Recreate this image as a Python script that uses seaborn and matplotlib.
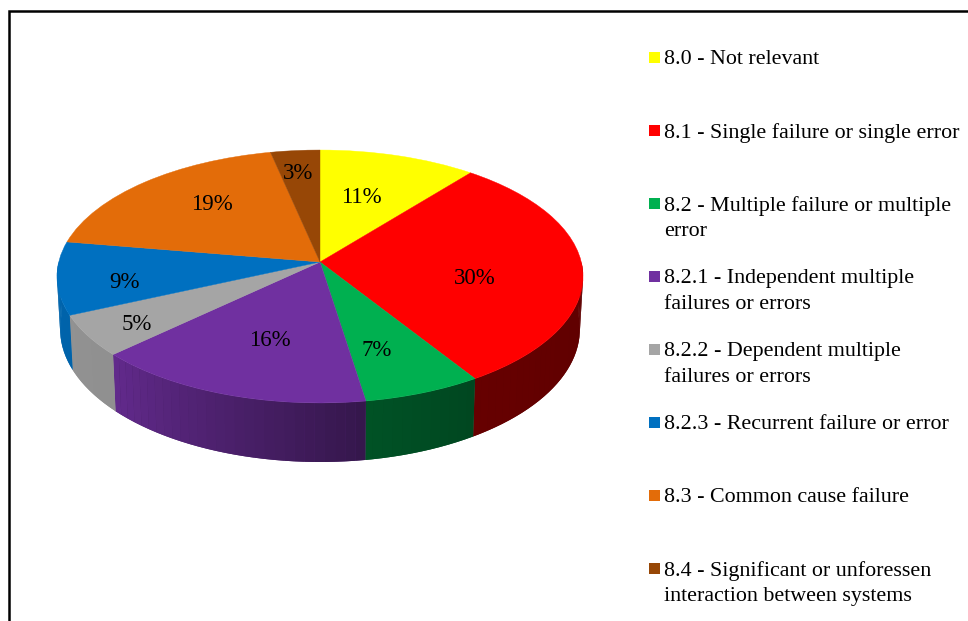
import numpy as np
import matplotlib
matplotlib.use('Agg')
import matplotlib.pyplot as plt
import seaborn as sns
from matplotlib.patches import Rectangle
from matplotlib.transforms import Transform

categories = ['8.0 - Not relevant',
              '8.1 - Single failure or single error',
              '8.2 - Multiple failure or multiple\nerror',
              '8.2.1 - Independent multiple\nfailures or errors',
              '8.2.2 - Dependent multiple\nfailures or errors',
              '8.2.3 - Recurrent failure or error',
              '8.3 - Common cause failure',
              '8.4 - Significant or unforessen\ninteraction between systems']
# shares, the labels show them rounded
values = [10.8, 30.2, 6.51, 15.51, 5.3, 9.3, 19.0, 3.38]
colors = ['#FFFF00', '#FF0000', '#00B050', '#7030A0',
          '#A5A5A5', '#0070C0', '#E36C09', '#974706']
# where the percent labels sit, in pixels
label_x = [361, 475, 377, 270, 137, 124, 212, 298]
label_y = [197.5, 278, 350, 341, 324, 283, 205, 173.5]

sns.set_theme(style='white')
plt.rcParams['font.family'] = ['Liberation Serif', 'DejaVu Serif']
palette = sns.color_palette(colors)

# perspective of the pie, in pixels
CX, CY = 320, 262
SX, SY, K = 261.3, 124.8, 0.1146


def project(u, v):
    w = 1 + K * v
    return CX + SX * u / w, CY - SY * v / w


class Tilt(Transform):
    input_dims = 2
    output_dims = 2

    def transform_non_affine(self, xy):
        x, y = project(xy[:, 0], xy[:, 1])
        return np.column_stack((x, y))


def wall(th):
    th = np.radians(th)
    x, y = project(np.sin(th), np.cos(th))
    return x, y, CX + (x - CX) * 0.988, CY + 52 + (y - CY) * 1.05


fig = plt.figure(figsize=(9.68, 6.21), dpi=100)
ax = fig.add_axes([0, 0, 1, 1])

wedges, _, pcts = ax.pie(values, colors=palette, startangle=90, counterclock=False,
                         autopct='%.0f%%', pctdistance=0.6, labeldistance=None,
                         textprops={'fontsize': 16.5, 'color': 'black'})
tilt = Tilt() + ax.transData
for w in wedges:
    w.set_transform(tilt)
    w.set_edgecolor(w.get_facecolor())
    w.set_linewidth(0.3)
    w.set_zorder(3)
for t, lx, ly in zip(pcts, label_x, label_y):
    t.set_position((lx, ly))
    t.set_zorder(4)

ax.set_aspect('auto')
ax.set_xlim(0, 968)
ax.set_ylim(621, 0)
ax.set_axis_off()

# side wall, darker towards the front right
edges = np.cumsum([0] + values) / np.sum(values) * 360
for i, col in enumerate(palette):
    start, end = max(edges[i], 90), min(edges[i + 1], 270)
    if end <= start:
        continue
    ang = np.append(np.arange(start, end, 2.0), end)
    shades = np.interp(ang, [90, 148, 171, 226, 270], [0.37, 0.40, 0.47, 0.87, 0.9])
    # whole slice first so the strips leave no seams
    x, y, x2, y2 = wall(ang)
    base = tuple(c * shades.mean() for c in col)
    ax.fill(np.r_[x, x2[::-1]], np.r_[y, y2[::-1]], color=base, lw=0, zorder=1)
    for j in range(len(ang) - 1):
        x, y, x2, y2 = wall(ang[j:j + 2])
        shade = tuple(c * shades[j:j + 2].mean() for c in col)
        ax.fill(np.r_[x, x2[::-1]], np.r_[y, y2[::-1]], color=shade, lw=0, zorder=2)

# frame
ax.plot([9, 9, 968], [621, 11, 11], color='black', lw=1.8, zorder=5,
        solid_joinstyle='miter', clip_on=False)

# legend
for i, (name, col) in enumerate(zip(categories, palette)):
    y = 57 + 73 * i
    ax.add_patch(Rectangle((649, y - 5.5), 11, 11, color=col, lw=0))
    ax.text(664, y - 7, name, fontsize=15.8, color='black', va='top', ha='left',
            linespacing=1.47)

fig.savefig('out.png', dpi=100)
